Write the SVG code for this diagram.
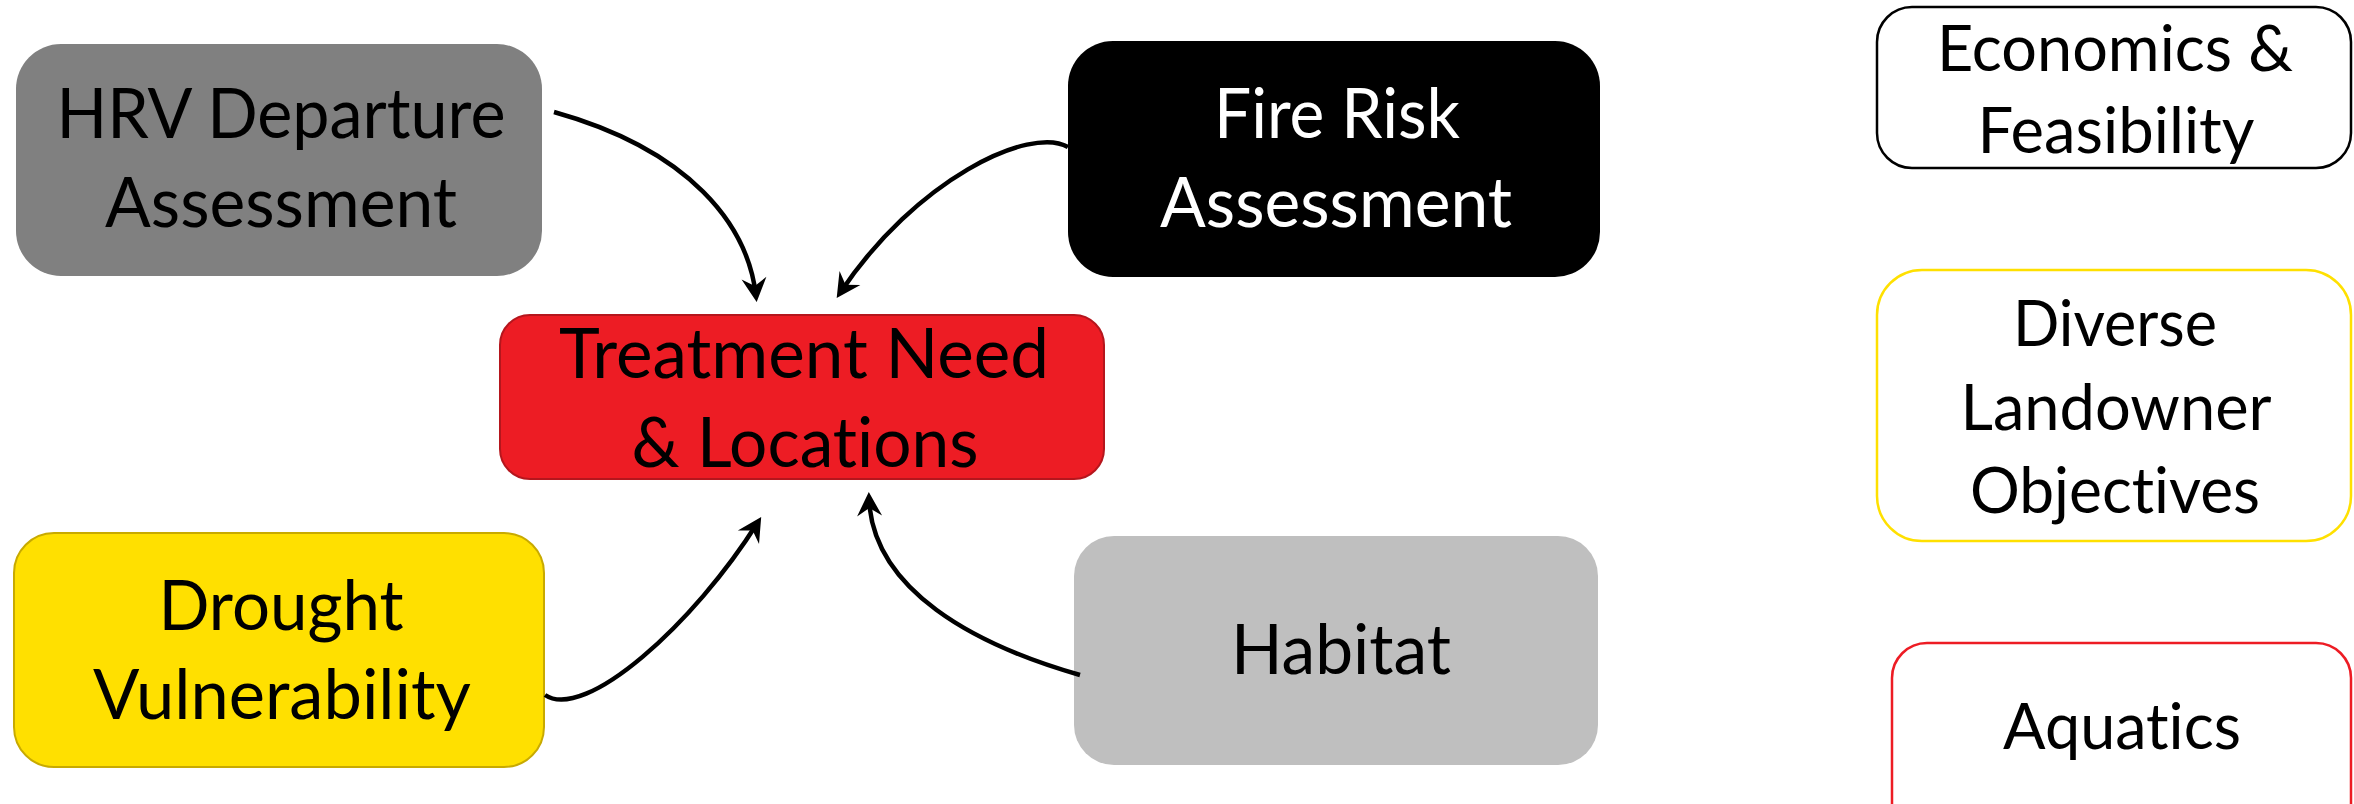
<svg xmlns="http://www.w3.org/2000/svg" width="2354" height="804" viewBox="0 0 2354 804">
<style>
  .t { font-family: Lato, "Open Sans", "Liberation Sans", sans-serif; text-anchor: middle; font-variant-ligatures: none; font-feature-settings: "liga" 0, "clig" 0; }
  .big { font-size: 69px; }
  .side { font-size: 64px; }
  .conn { fill: none; stroke: #000; stroke-width: 4.5; }
  .outline { fill: #fff; stroke-width: 2.5; }
</style>
<defs>
  <marker id="arrow" markerUnits="userSpaceOnUse" viewBox="-28 -15 36 30" refX="-6" refY="0" markerWidth="36" markerHeight="30" orient="auto">
    <path d="M0,0 L-24,-12.5 L-16,0 L-24,12.5 Z" fill="#000"/>
  </marker>
</defs>
<rect width="2354" height="804" fill="#fff"/>

<g id="hrv">
  <rect x="16" y="44" width="526" height="232" rx="45" fill="#808080"/>
  <text class="t big" x="281" y="138" textLength="449" lengthAdjust="spacingAndGlyphs">HRV Departure</text>
  <text class="t big" x="281" y="227" textLength="352" lengthAdjust="spacingAndGlyphs">Assessment</text>
</g>

<g id="fire">
  <rect x="1068" y="41" width="532" height="236" rx="45" fill="#000"/>
  <text class="t big" x="1337" y="138" textLength="246" lengthAdjust="spacingAndGlyphs" fill="#fff">Fire Risk</text>
  <text class="t big" x="1336" y="227" textLength="352" lengthAdjust="spacingAndGlyphs" fill="#fff">Assessment</text>
</g>

<g id="treatment">
  <rect x="500" y="315" width="604" height="164" rx="30" fill="#ED1C24" stroke="#B5161D" stroke-width="2"/>
  <text class="t big" x="804" y="378" textLength="490" lengthAdjust="spacingAndGlyphs">Treatment Need</text>
  <text class="t big" x="805" y="467" textLength="347" lengthAdjust="spacingAndGlyphs">&amp; Locations</text>
</g>

<g id="drought">
  <rect x="14" y="533" width="530" height="234" rx="40" fill="#FFE000" stroke="#C8AA00" stroke-width="2"/>
  <text class="t big" x="281" y="630" textLength="245" lengthAdjust="spacingAndGlyphs">Drought</text>
  <text class="t big" x="282" y="719" textLength="378" lengthAdjust="spacingAndGlyphs">Vulnerability</text>
</g>

<g id="habitat">
  <rect x="1074" y="536" width="524" height="229" rx="40" fill="#BFBFBF"/>
  <text class="t big" x="1341" y="674" textLength="220" lengthAdjust="spacingAndGlyphs">Habitat</text>
</g>

<g id="economics">
  <rect class="outline" x="1877" y="7" width="474" height="161" rx="35" stroke="#000"/>
  <text class="t side" x="2115" y="71" textLength="356" lengthAdjust="spacingAndGlyphs">Economics &amp;</text>
  <text class="t side" x="2116" y="153" textLength="277" lengthAdjust="spacingAndGlyphs">Feasibility</text>
</g>

<g id="diverse">
  <rect class="outline" x="1877" y="270" width="474" height="271" rx="45" stroke="#FFE000"/>
  <text class="t side" x="2115" y="346" textLength="204" lengthAdjust="spacingAndGlyphs">Diverse</text>
  <text class="t side" x="2116" y="430" textLength="311" lengthAdjust="spacingAndGlyphs">Landowner</text>
  <text class="t side" x="2115" y="513" textLength="290" lengthAdjust="spacingAndGlyphs">Objectives</text>
</g>

<g id="aquatics">
  <rect class="outline" x="1892" y="643" width="459" height="200" rx="35" stroke="#ED1C24"/>
  <text class="t side" x="2122" y="749" textLength="238" lengthAdjust="spacingAndGlyphs">Aquatics</text>
</g>

<g id="connectors">
  <path class="conn" d="M554,112 C690,150 748,225 756,296" marker-end="url(#arrow)"/>
  <path class="conn" d="M1068,147 C1030,125 915,180 840,293" marker-end="url(#arrow)"/>
  <path class="conn" d="M545,695 C585,722 694,624 758,522" marker-end="url(#arrow)"/>
  <path class="conn" d="M1080,675 C975,645 872,590 869,498" marker-end="url(#arrow)"/>
</g>
</svg>
